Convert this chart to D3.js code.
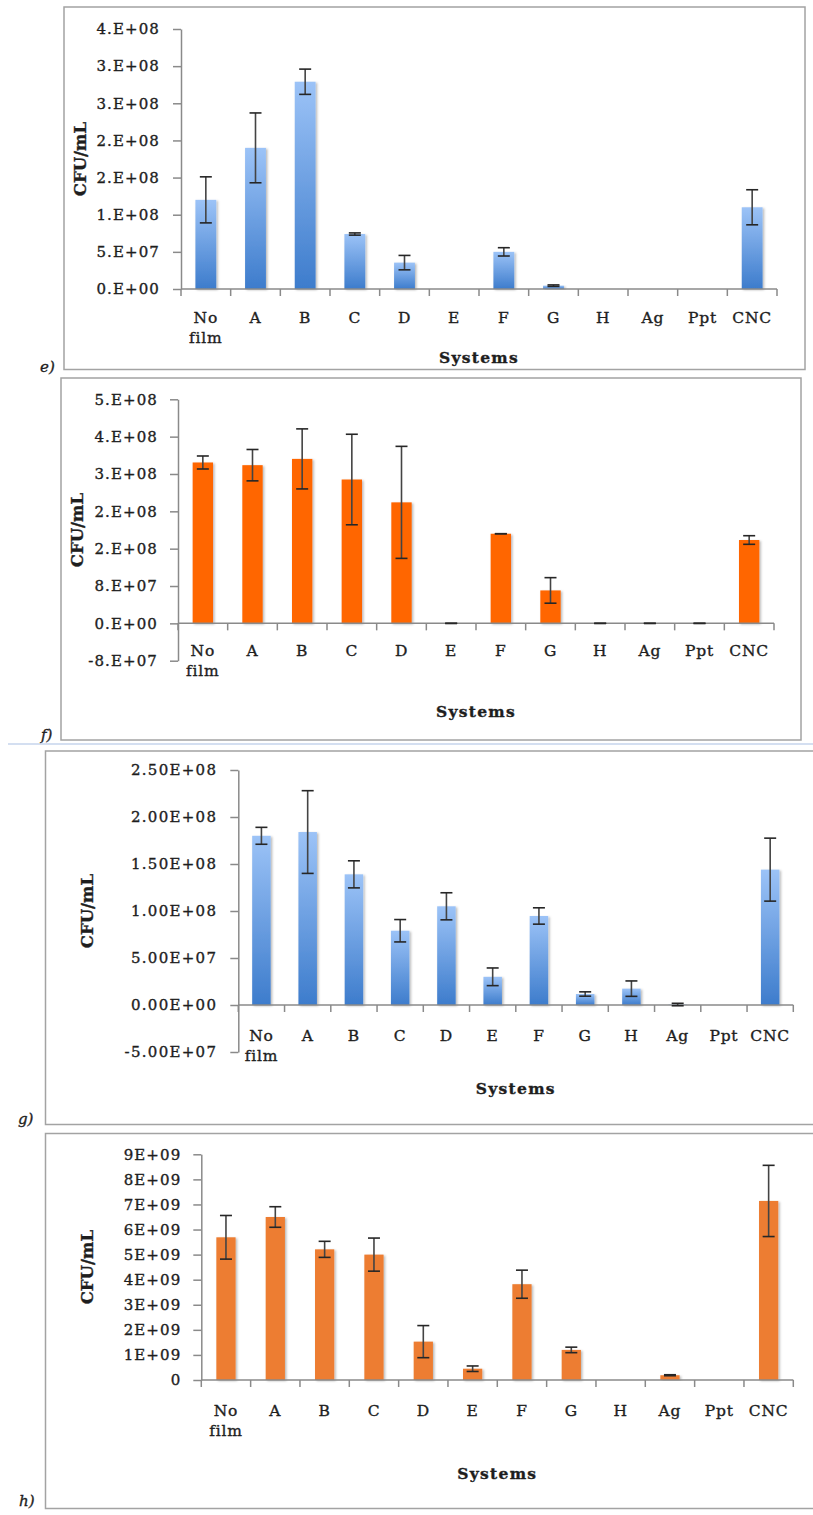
<!DOCTYPE html>
<html>
<head>
<meta charset="utf-8">
<script src="https://cdn.jsdelivr.net/npm/d3@7"></script>
<style>
  html, body { margin: 0; padding: 0; background: #fff; }
  svg { display: block; }
  text { font-family: "DejaVu Serif", serif; fill: #1e1e1e; stroke: #1e1e1e; stroke-width: 0.35px; }
</style>
</head>
<body>
<svg id="chart" width="813" height="1515"></svg>
<script>
// ---------- DATA ----------
const categories = ["No film", "A", "B", "C", "D", "E", "F", "G", "H", "Ag", "Ppt", "CNC"];

// panel e)
const eValues = [1.20e8, 1.90e8, 2.79e8, 7.4e7, 3.55e7, 0, 5.0e7, 4.5e6, 0, 0, 0, 1.10e8];
const eErrors = [3.1e7, 4.7e7, 1.7e7, 1.5e6, 9.7e6, null, 5.6e6, 1.0e6, null, null, null, 2.36e7];
const eTicks = [0, 5e7, 1e8, 1.5e8, 2e8, 2.5e8, 3e8, 3.5e8];
const eTickLabels = ["0.E+00", "5.E+07", "1.E+08", "2.E+08", "2.E+08", "3.E+08", "3.E+08", "4.E+08"];

// panel f)
const fValues = [3.59e8, 3.53e8, 3.67e8, 3.21e8, 2.70e8, 0, 2.00e8, 7.35e7, 0, 0, 0, 1.86e8];
const fErrors = [1.45e7, 3.5e7, 6.7e7, 1.01e8, 1.25e8, 0, 0, 2.85e7, 0, 0, 0, 9.6e6];
const fTicks = [-8.3333e7, 0, 8.3333e7, 1.66667e8, 2.5e8, 3.33333e8, 4.16667e8, 5e8];
const fTickLabels = ["-8.E+07", "0.E+00", "8.E+07", "2.E+08", "2.E+08", "3.E+08", "4.E+08", "5.E+08"];

// panel g)
const gValues = [1.80e8, 1.84e8, 1.39e8, 7.9e7, 1.05e8, 3.0e7, 9.47e7, 1.17e7, 1.74e7, 5e5, 0, 1.44e8];
const gErrors = [9e6, 4.4e7, 1.44e7, 1.19e7, 1.44e7, 9.4e6, 8.7e6, 2.3e6, 8.2e6, 1.3e6, null, 3.35e7];
const gTicks = [-5e7, 0, 5e7, 1e8, 1.5e8, 2e8, 2.5e8];
const gTickLabels = ["-5.00E+07", "0.00E+00", "5.00E+07", "1.00E+08", "1.50E+08", "2.00E+08", "2.50E+08"];

// panel h)
const hValues = [5.69e9, 6.50e9, 5.21e9, 5.00e9, 1.53e9, 4.5e8, 3.82e9, 1.20e9, 0, 1.9e8, 0, 7.14e9];
const hErrors = [8.7e8, 4.1e8, 3.2e8, 6.6e8, 6.4e8, 1.1e8, 5.6e8, 1.1e8, null, 2e7, null, 1.42e9];
const hTicks = [0, 1e9, 2e9, 3e9, 4e9, 5e9, 6e9, 7e9, 8e9, 9e9];
const hTickLabels = ["0", "1E+09", "2E+09", "3E+09", "4E+09", "5E+09", "6E+09", "7E+09", "8E+09", "9E+09"];

const yTitle = "CFU/mL";
const xTitle = "Systems";

// ---------- DRAW ----------
const svg = d3.select("#chart");
const defs = svg.append("defs");

const grad = defs.append("linearGradient").attr("id", "blueGrad")
  .attr("x1", 0).attr("y1", 0).attr("x2", 0).attr("y2", 1);
grad.append("stop").attr("offset", "0%").attr("stop-color", "#9cc3f7");
grad.append("stop").attr("offset", "100%").attr("stop-color", "#3d7ccc");

const shadow = defs.append("filter").attr("id", "shadow")
  .attr("x", "-30%").attr("y", "-10%").attr("width", "160%").attr("height", "130%");
shadow.append("feDropShadow").attr("dx", 1.5).attr("dy", 1).attr("stdDeviation", 1.2)
  .attr("flood-color", "#000").attr("flood-opacity", 0.28);

// stray separator line between f) and g)
svg.append("line").attr("x1", 8).attr("x2", 813).attr("y1", 744).attr("y2", 744)
  .attr("stroke", "#a9c0e4").attr("stroke-width", 1.2);

function drawPanel(p) {
  const g = svg.append("g");
  // frame
  g.append("rect").attr("x", p.frame[0]).attr("y", p.frame[1])
    .attr("width", p.frame[2] - p.frame[0]).attr("height", p.frame[3] - p.frame[1])
    .attr("fill", "none").attr("stroke", "#a3a3a3").attr("stroke-width", 1.5);

  g.append("text").attr("x", p.tag[0]).attr("y", p.tag[1])
    .attr("font-style", "italic").attr("font-size", 15).text(p.tagText);

  const x = d3.scaleBand().domain(categories).range([p.left, p.right]).padding(0);
  const y = d3.scaleLinear().domain([p.ticks[0], p.ticks[p.ticks.length - 1]]).range([p.bottom, p.top]);
  const y0 = y(0);

  // bars
  const bw = x.bandwidth() * p.barFrac;
  const data = categories.map((c, i) => ({ c, v: p.values[i], e: p.errors[i] }));
  g.append("g").selectAll("rect").data(data.filter(d => d.v > 0)).join("rect")
    .attr("x", d => x(d.c) + (x.bandwidth() - bw) / 2)
    .attr("y", d => y(d.v))
    .attr("width", bw)
    .attr("height", d => y0 - y(d.v))
    .attr("fill", p.fill)
    .attr("filter", "url(#shadow)");

  // y axis
  const yAxis = d3.axisLeft(y).tickValues(p.ticks)
    .tickFormat((d, i) => p.tickLabels[i]).tickSize(8).tickSizeOuter(0).tickPadding(p.tickPad);
  const ya = g.append("g").attr("transform", `translate(${p.left},0)`).call(yAxis);
  ya.select(".domain").attr("stroke", "#8a8a8a").attr("stroke-width", 1.5);
  ya.selectAll(".tick line").attr("stroke", "#8a8a8a").attr("stroke-width", 1.5);
  ya.selectAll(".tick text").attr("font-size", 15).attr("letter-spacing", p.ls)
    .attr("fill", "#1e1e1e").style("font-family", '"DejaVu Serif", serif');

  // x axis line + boundary ticks
  const xa = g.append("g");
  xa.append("line").attr("x1", p.left).attr("x2", p.right).attr("y1", y0).attr("y2", y0)
    .attr("stroke", "#8a8a8a").attr("stroke-width", 1.5);
  const bounds = categories.map(c => x(c)).concat([p.right]);
  xa.selectAll("line.bt").data(bounds).join("line").attr("class", "bt")
    .attr("x1", d => d).attr("x2", d => d).attr("y1", y0).attr("y2", y0 + 7)
    .attr("stroke", "#8a8a8a").attr("stroke-width", 1.5);

  // x labels
  const lab = g.append("g").selectAll("text").data(categories).join("text")
    .attr("x", d => x(d) + x.bandwidth() / 2)
    .attr("y", y0 + p.labOff)
    .attr("text-anchor", "middle").attr("font-size", 15.5).attr("letter-spacing", 0.8);
  lab.each(function (d) {
    const t = d3.select(this);
    const parts = d.split(" ");
    parts.forEach((s, k) => {
      t.append("tspan").attr("x", x(d) + x.bandwidth() / 2).attr("dy", k === 0 ? 0 : 20).text(s);
    });
  });

  // error bars
  const eb = g.append("g").attr("stroke", "#262626").attr("stroke-width", 1.6);
  data.filter(d => d.e !== null).forEach(d => {
    const cx = x(d.c) + x.bandwidth() / 2;
    const yt = y(d.v + d.e), yb = y(d.v - d.e);
    eb.append("line").attr("x1", cx).attr("x2", cx).attr("y1", yt).attr("y2", yb).attr("stroke", "#444");
    [yt, yb].forEach(yy => {
      eb.append("line").attr("x1", cx - 6).attr("x2", cx + 6).attr("y1", yy).attr("y2", yy);
    });
  });

  // titles
  g.append("text").attr("transform", `translate(${p.yTitleX},${(p.top + p.bottom) / 2}) rotate(-90)`)
    .attr("text-anchor", "middle").attr("dominant-baseline", "central")
    .attr("font-weight", "bold").attr("font-size", 16.5).text(yTitle);
  g.append("text").attr("x", (p.left + p.right) / 2).attr("y", y0 + p.xTitleOff)
    .attr("text-anchor", "middle").attr("dominant-baseline", "central")
    .attr("font-weight", "bold").attr("font-size", 15.5).attr("letter-spacing", 1.3).text(xTitle);
}

drawPanel({
  frame: [64, 7, 805, 369.5], tag: [40, 372], tagText: "e)",
  left: 181, right: 777, top: 29, bottom: 289,
  values: eValues, errors: eErrors, ticks: eTicks, tickLabels: eTickLabels,
  fill: "url(#blueGrad)", barFrac: 0.42, tickPad: 13, ls: 1.1,
  labOff: 34, yTitleX: 80, xTitleOff: 68
});
drawPanel({
  frame: [61, 378, 801, 740], tag: [41, 740], tagText: "f)",
  left: 178, right: 774, top: 399.3, bottom: 660.7,
  values: fValues, errors: fErrors, ticks: fTicks, tickLabels: fTickLabels,
  fill: "#ff6600", barFrac: 0.41, tickPad: 12, ls: 1.1,
  labOff: 33, yTitleX: 77, xTitleOff: 88
});
drawPanel({
  frame: [45.5, 751, 816, 1124.5], tag: [18, 1124], tagText: "g)",
  left: 238.3, right: 793.3, top: 770, bottom: 1052,
  values: gValues, errors: gErrors, ticks: gTicks, tickLabels: gTickLabels,
  fill: "url(#blueGrad)", barFrac: 0.4, tickPad: 13, ls: 1.3,
  labOff: 36, yTitleX: 87, xTitleOff: 83
});
drawPanel({
  frame: [45.5, 1133.5, 816, 1508.5], tag: [19, 1506], tagText: "h)",
  left: 201.3, right: 793.3, top: 1154.3, bottom: 1380,
  values: hValues, errors: hErrors, ticks: hTicks, tickLabels: hTickLabels,
  fill: "#ed7d31", barFrac: 0.39, tickPad: 12, ls: 1.1,
  labOff: 36, yTitleX: 87, xTitleOff: 93
});
</script>
</body>
</html>
